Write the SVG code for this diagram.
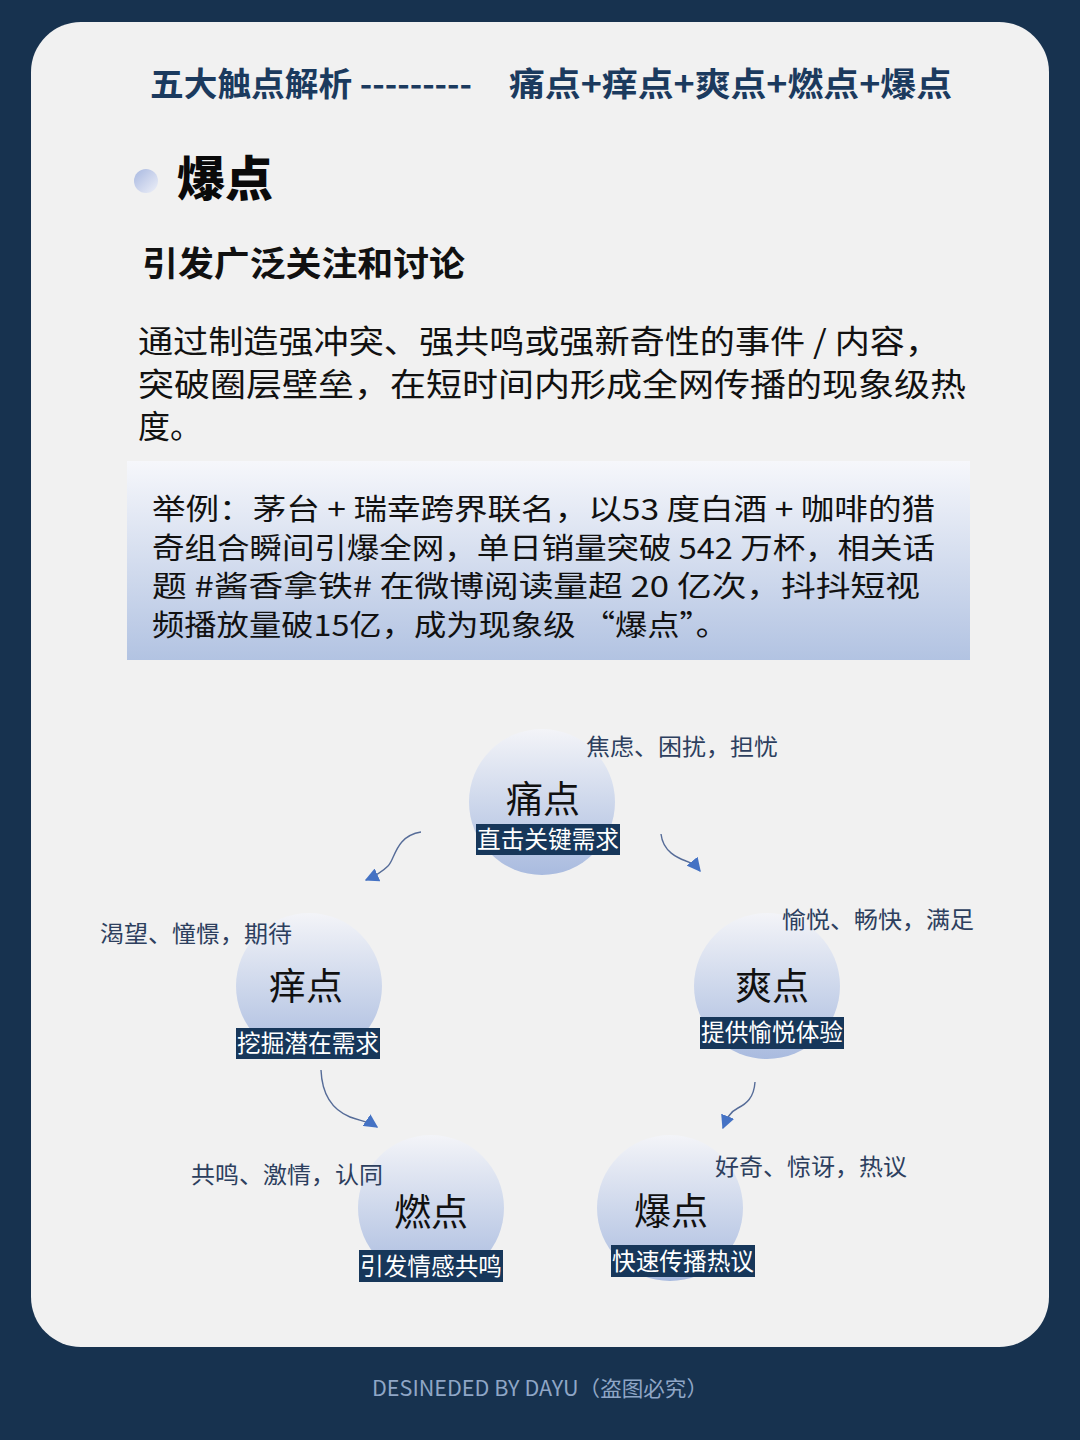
<svg xmlns="http://www.w3.org/2000/svg" width="1080" height="1440" viewBox="0 0 1080 1440">
<defs>
<style>
.cjk{font-family:"Noto Sans CJK SC","Noto Sans",sans-serif}
.title{font-size:33px;font-weight:700;fill:#1b3a5e}
.h1{font-size:48px;font-weight:900;fill:#0a0a0a}
.h2{font-size:34px;font-weight:700;fill:#111}
.para{font-size:32px;fill:#111}
.ex{font-size:29px;fill:#111}
.nodeT{font-size:37px;fill:#111;text-anchor:middle}
.lbl{font-size:24px;fill:#fff;text-anchor:middle}
.lblbg{fill:#17375a}
.ann{font-size:23px;fill:#2d3f5e}
.conn{fill:none;stroke:#566c98;stroke-width:1.4}
</style>
<linearGradient id="cg" x1="0" y1="0" x2="0" y2="1">
<stop offset="0" stop-color="#f3f4f8"/>
<stop offset="1" stop-color="#a9bbdf"/>
</linearGradient>
<linearGradient id="bg" x1="0" y1="0" x2="0" y2="1">
<stop offset="0" stop-color="#f6f7fb"/>
<stop offset="1" stop-color="#b2c3e2"/>
</linearGradient>
<linearGradient id="dot" x1="0" y1="0" x2="1" y2="1">
<stop offset="0" stop-color="#a8b8e0"/>
<stop offset="1" stop-color="#eef0f8"/>
</linearGradient>
<marker id="ah2" viewBox="0 0 10 10" refX="9" refY="5" markerWidth="14" markerHeight="14" markerUnits="userSpaceOnUse" orient="auto">
<path d="M0,0 L10,5 L0,10 z" fill="#4472c4"/>
</marker>
</defs>
<rect x="0" y="0" width="1080" height="1440" fill="#17324f"/>
<rect x="31" y="22" width="1018" height="1325" rx="50" fill="#f1f1f1"/>

<g id="header" class="cjk">
<text class="title" x="150" y="96" textLength="322" lengthAdjust="spacingAndGlyphs">五大触点解析 ---------</text>
<text class="title" x="509" y="96" textLength="443" lengthAdjust="spacingAndGlyphs">痛点+痒点+爽点+燃点+爆点</text>
<circle cx="146" cy="181" r="12" fill="url(#dot)"/>
<text class="h1" x="177" y="196">爆点</text>
<text class="h2" x="142" y="276" textLength="323" lengthAdjust="spacingAndGlyphs">引发广泛关注和讨论</text>
<text class="para" x="138" y="353" textLength="802" lengthAdjust="spacingAndGlyphs">通过制造强冲突、强共鸣或强新奇性的事件 / 内容，</text>
<text class="para" x="138" y="396" textLength="828" lengthAdjust="spacingAndGlyphs">突破圈层壁垒，在短时间内形成全网传播的现象级热</text>
<text class="para" x="138" y="438">度。</text>
</g>

<g id="example" class="cjk">
<rect x="127" y="461" width="843" height="199" fill="url(#bg)"/>
<text class="ex" x="152" y="520" textLength="783" lengthAdjust="spacingAndGlyphs">举例：茅台 + 瑞幸跨界联名，以53 度白酒 + 咖啡的猎</text>
<text class="ex" x="152" y="559" textLength="783" lengthAdjust="spacingAndGlyphs">奇组合瞬间引爆全网，单日销量突破 542 万杯，相关话</text>
<text class="ex" x="152" y="597" textLength="768" lengthAdjust="spacingAndGlyphs">题 #酱香拿铁# 在微博阅读量超 20 亿次，抖抖短视</text>
<text class="ex" x="152" y="636" textLength="576" lengthAdjust="spacingAndGlyphs">频播放量破15亿，成为现象级 “爆点”。</text>
</g>

<g id="connectors">
<path class="conn" d="M421,832 C395,836 395,860 388,866 C382,872 375,876 366,880" marker-end="url(#ah2)"/>
<path class="conn" d="M661,834 C663,852 678,858 686,861 C692,863 696,866 700,871" marker-end="url(#ah2)"/>
<path class="conn" d="M321,1070 C322,1095 333,1110 350,1117 C360,1121 368,1121 377,1127" marker-end="url(#ah2)"/>
<path class="conn" d="M755,1082 C754,1098 746,1104 738,1108 C730,1112 727,1118 723,1128" marker-end="url(#ah2)"/>
</g>

<g id="node-tong" class="cjk">
<circle cx="542" cy="802" r="73" fill="url(#cg)"/>
<text class="nodeT" x="543" y="813">痛点</text>
<rect class="lblbg" x="476" y="824" width="144" height="31"/>
<text class="lbl" x="548" y="848" textLength="142" lengthAdjust="spacingAndGlyphs">直击关键需求</text>
<text class="ann" x="586" y="755" textLength="192" lengthAdjust="spacingAndGlyphs">焦虑、困扰，担忧</text>
</g>

<g id="node-yang" class="cjk">
<circle cx="309" cy="986" r="73" fill="url(#cg)"/>
<text class="nodeT" x="306" y="1000">痒点</text>
<rect class="lblbg" x="236" y="1028" width="144" height="31"/>
<text class="lbl" x="308" y="1052" textLength="142" lengthAdjust="spacingAndGlyphs">挖掘潜在需求</text>
<text class="ann" x="100" y="942" textLength="192" lengthAdjust="spacingAndGlyphs">渴望、憧憬，期待</text>
</g>

<g id="node-shuang" class="cjk">
<circle cx="767" cy="986" r="73" fill="url(#cg)"/>
<text class="nodeT" x="772" y="1000">爽点</text>
<rect class="lblbg" x="700" y="1017" width="144" height="32"/>
<text class="lbl" x="772" y="1041" textLength="142" lengthAdjust="spacingAndGlyphs">提供愉悦体验</text>
<text class="ann" x="782" y="928" textLength="192" lengthAdjust="spacingAndGlyphs">愉悦、畅快，满足</text>
</g>

<g id="node-ran" class="cjk">
<circle cx="431" cy="1208" r="73" fill="url(#cg)"/>
<text class="nodeT" x="431" y="1226">燃点</text>
<rect class="lblbg" x="359" y="1250" width="144" height="32"/>
<text class="lbl" x="431" y="1275" textLength="142" lengthAdjust="spacingAndGlyphs">引发情感共鸣</text>
<text class="ann" x="191" y="1183" textLength="192" lengthAdjust="spacingAndGlyphs">共鸣、激情，认同</text>
</g>

<g id="node-bao" class="cjk">
<circle cx="670" cy="1208" r="73" fill="url(#cg)"/>
<text class="nodeT" x="671" y="1225">爆点</text>
<rect class="lblbg" x="611" y="1245" width="144" height="32"/>
<text class="lbl" x="683" y="1270" textLength="142" lengthAdjust="spacingAndGlyphs">快速传播热议</text>
<text class="ann" x="715" y="1175" textLength="192" lengthAdjust="spacingAndGlyphs">好奇、惊讶，热议</text>
</g>

<text class="cjk" x="372" y="1396" font-size="21" fill="#8fa6c6" textLength="336" lengthAdjust="spacingAndGlyphs">DESINEDED BY DAYU（盗图必究）</text>
</svg>
